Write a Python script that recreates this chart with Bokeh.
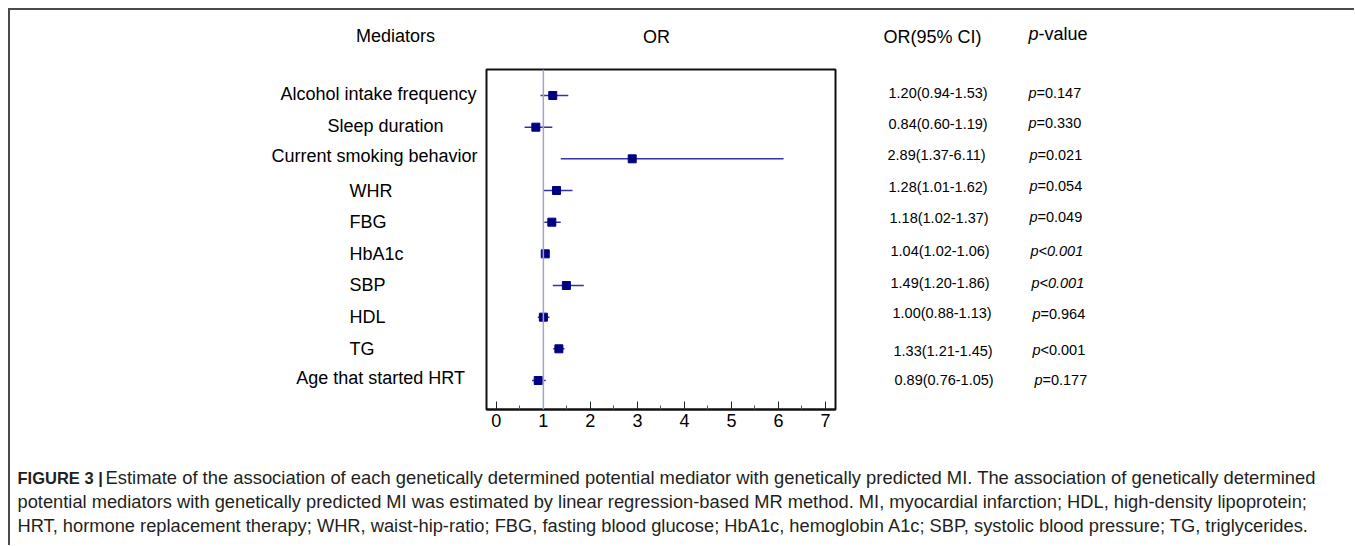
from bokeh.plotting import figure
from bokeh.models import Range1d, Span, FixedTicker, Spacer
from bokeh.layouts import column, row
from bokeh.core.properties import value
from bokeh.embed import file_html
from bokeh.resources import INLINE

# ---------------- data ----------------
mediators = ["Alcohol intake frequency", "Sleep duration", "Current smoking behavior",
             "WHR", "FBG", "HbA1c", "SBP", "HDL", "TG", "Age that started HRT"]
or_est = [1.20, 0.84, 2.89, 1.28, 1.18, 1.04, 1.49, 1.00, 1.33, 0.89]
ci_low = [0.94, 0.60, 1.37, 1.01, 1.02, 1.02, 1.20, 0.88, 1.21, 0.76]
ci_high = [1.53, 1.19, 6.11, 1.62, 1.37, 1.06, 1.86, 1.13, 1.45, 1.05]
p_values = ["p=0.147", "p=0.330", "p=0.021", "p=0.054", "p=0.049",
            "p<0.001", "p<0.001", "p=0.964", "p<0.001", "p=0.177"]
p_rest_italic = [False, False, False, False, False, True, True, False, False, False]
x_ticks = [0, 1, 2, 3, 4, 5, 6, 7]
headers = ["Mediators", "OR", "OR(95% CI)", "p-value"]
caption_bold = "FIGURE 3 |"
caption_lines = [
    "Estimate of the association of each genetically determined potential mediator with genetically predicted MI. The association of genetically determined",
    "potential mediators with genetically predicted MI was estimated by linear regression-based MR method. MI, myocardial infarction; HDL, high-density lipoprotein;",
    "HRT, hormone replacement therapy; WHR, waist-hip-ratio; FBG, fasting blood glucose; HbA1c, hemoglobin A1c; SBP, systolic blood pressure; TG, triglycerides.",
]

rows = list(range(1, len(mediators) + 1))

# ---------------- layout (page pixel coordinates) ----------------
FONT = "Liberation Sans"
X0, Y0 = 10, 10            # content origin (8px offset + 2px border)
X1, Y1 = 1354, 545         # content end
FL, FT, FR, FB = 486, 69, 835, 409   # forest-plot frame
ROW_TOP, ROW_BOT = 61, 440           # middle band
MAIN_L, MAIN_R = 481, 840            # main figure canvas

Y_BOTTOM, Y_TOP = 10.916, 0.179      # data y at frame bottom / top (rows top->bottom)


def text_fig(xa, xb, ya, yb, y_range=None, top=0, bottom=0):
    f = figure(width=xb - xa, height=yb - ya, output_backend="svg", toolbar_location=None,
               x_range=Range1d(xa, xb), y_range=y_range if y_range is not None else Range1d(yb, ya),
               x_axis_location=None, y_axis_location=None,
               min_border_left=0, min_border_right=0,
               min_border_top=top, min_border_bottom=bottom)
    f.grid.visible = False
    f.outline_line_color = None
    f.background_fill_color = "white"
    f.border_fill_color = "white"
    return f


def txt(f, x, y, t, size="18px", align="left", style="normal", color="black", yoff=0):
    f.text(x=x, y=y, text=t, text_font=value(FONT), text_font_size=size,
           text_align=align, text_baseline="middle", text_font_style=style,
           text_color=color, y_offset=yoff)


# ---- header ----
head = text_fig(X0, X1, Y0, ROW_TOP)
txt(head, [395], [35], [headers[0]], align="center")
txt(head, [656], [36], [headers[1]], align="center")
txt(head, [932], [36], [headers[2]], align="center")
txt(head, [1028], [33], [headers[3][0]], style="italic")
txt(head, [1038], [33], [headers[3][1:]])

# ---- forest plot ----
p = figure(width=MAIN_R - MAIN_L, height=ROW_BOT - ROW_TOP, output_backend="svg",
           toolbar_location=None,
           x_range=Range1d(-0.21, 7.215), y_range=Range1d(Y_BOTTOM, Y_TOP),
           y_axis_location=None,
           min_border_left=FL - MAIN_L, min_border_right=MAIN_R - FR,
           min_border_top=FT - ROW_TOP, min_border_bottom=ROW_BOT - FB)
p.grid.visible = False
p.outline_line_color = "#111111"
p.outline_line_width = 2
p.background_fill_color = "white"
p.border_fill_color = "white"

ax = p.xaxis[0]
ax.ticker = FixedTicker(ticks=x_ticks, minor_ticks=[t + 0.5 for t in x_ticks[:-1]])
ax.major_tick_in = 8
ax.major_tick_out = 0
ax.minor_tick_in = 4
ax.minor_tick_out = 0
ax.major_tick_line_color = "#222222"
ax.minor_tick_line_color = "#555555"
ax.axis_line_color = "#111111"
ax.axis_line_width = 2
ax.major_label_standoff = 4
ax.major_label_text_font = FONT
ax.major_label_text_font_size = "18px"
ax.major_label_text_color = "black"

p.add_layout(Span(location=1, dimension="height", line_color="#a3a3d0", line_width=1.5))
p.segment(x0=ci_low, y0=rows, x1=ci_high, y1=rows, line_color="#3333a3", line_width=1.5)
p.scatter(x=or_est, y=rows, marker="square", size=8, fill_color="#000080", line_color="#000080")

# ---- left: mediator names (same vertical frame as the forest plot) ----
left = text_fig(X0, MAIN_L, ROW_TOP, ROW_BOT, y_range=Range1d(Y_BOTTOM, Y_TOP),
                top=FT - ROW_TOP, bottom=ROW_BOT - FB)
centers = {"Alcohol intake frequency": 378, "Sleep duration": 385,
           "Current smoking behavior": 374, "Age that started HRT": 380}
name_nudge = [-1, -1, -3, 1, 0, 0, 0, 0, 0, -2]
for r, name, dy in zip(rows, mediators, name_nudge):
    if name in centers:
        txt(left, [centers[name]], [r], [name], align="center", yoff=dy)
    else:
        txt(left, [349], [r], [name], align="left", yoff=dy)

# ---- right: OR (95% CI) and p-values ----
right = text_fig(MAIN_R, X1, ROW_TOP, ROW_BOT, y_range=Range1d(Y_BOTTOM, Y_TOP),
                 top=FT - ROW_TOP, bottom=ROW_BOT - FB)
ci_start = [888, 888, 887, 888, 889, 890, 890, 892, 893, 894]
ci_nudge = [-2, -3, -4, -3, -4, -3, -2, -4, 2, 0]
for r, o, lo, hi, x0, dy in zip(rows, or_est, ci_low, ci_high, ci_start, ci_nudge):
    txt(right, [x0], [r], [f"{o:.2f}({lo:.2f}-{hi:.2f})"], size="14.5px", yoff=dy)

p_start = [1028, 1028, 1029, 1029, 1029, 1030, 1031, 1032, 1032, 1034]
p_nudge = [-2, -4, -4, -4, -5, -3, -2, -3, 1, 0]
for r, pv, it, x0, dy in zip(rows, p_values, p_rest_italic, p_start, p_nudge):
    txt(right, [x0], [r], [pv[0]], size="14.5px", style="italic", yoff=dy)
    txt(right, [x0 + 8], [r], [pv[1:]], size="14.5px",
        style="italic" if it else "normal", yoff=dy)

# ---- caption ----
cap = text_fig(X0, X1, ROW_BOT, Y1)
cap_col = "#231f20"
txt(cap, [17], [477], [caption_bold], size="16.5px", style="bold", color=cap_col)
txt(cap, [105], [477], [caption_lines[0]], size="18.4px", color=cap_col)
txt(cap, [17], [501], [caption_lines[1]], size="18.3px", color=cap_col)
txt(cap, [17], [525], [caption_lines[2]], size="18.3px", color=cap_col)

content = column(head, row(left, p, right), cap)
content.styles = {"border-top": "2px solid #4a4a4a", "border-left": "2px solid #4a4a4a"}
root = column(Spacer(height=8), row(Spacer(width=8), content))

open("out.html", "w").write(file_html(root, INLINE))
